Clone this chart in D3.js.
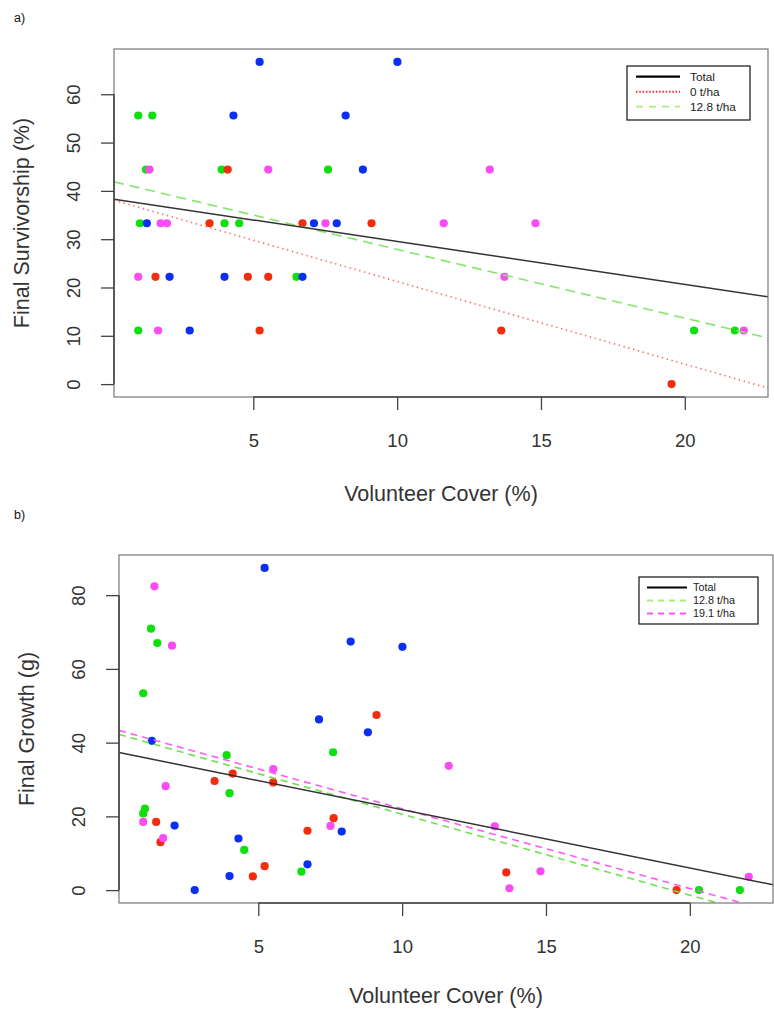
<!DOCTYPE html>
<html><head><meta charset="utf-8">
<script src="https://cdn.jsdelivr.net/npm/d3@7"></script>
<style>
html,body{margin:0;padding:0;background:#fff;}
svg text{font-family:"Liberation Sans",Arial,Helvetica,sans-serif;}
</style>
</head><body>
<svg id="chart" width="774" height="1010"></svg>
<script>
// ---------- Panel a: Final Survivorship (%) ----------
const aRedX   = [4.11, 3.48, 6.71, 9.11, 1.60, 4.81, 5.52, 5.22, 13.62, 19.54];
const aRedY   = [44.4, 33.3, 33.3, 33.3, 22.2, 22.2, 22.2, 11.1, 11.1, 0];
const aBlueX  = [5.22, 10.01, 4.31, 8.21, 8.81, 1.30, 7.11, 7.90, 2.09, 4.00, 6.71, 2.79];
const aBlueY  = [66.7, 66.7, 55.6, 55.6, 44.4, 33.3, 33.3, 33.3, 22.2, 22.2, 22.2, 11.1];
const aGreenX = [1.00, 1.49, 1.27, 3.90, 7.60, 1.06, 4.00, 4.51, 6.50, 1.00, 20.32, 21.74];
const aGreenY = [55.6, 55.6, 44.4, 44.4, 44.4, 33.3, 33.3, 33.3, 22.2, 11.1, 11.1, 11.1];
const aMagX   = [1.39, 5.52, 13.22, 1.78, 2.00, 7.51, 11.62, 14.81, 1.00, 13.73, 1.69, 22.05];
const aMagY   = [44.4, 44.4, 44.4, 33.3, 33.3, 33.3, 33.3, 33.3, 22.2, 22.2, 11.1, 11.1];
// fitted lines: [intercept, slope]
const aFitTotal = [38.42, -0.889];
const aFitRed   = [38.34, -1.71];
const aFitGreen = [42.10, -1.422];
const aLegend   = ["Total", "0 t/ha", "12.8 t/ha"];
const aXTicks = [5, 10, 15, 20];
const aYTicks = [0, 10, 20, 30, 40, 50, 60];

// ---------- Panel b: Final Growth (g) ----------
const bRedX   = [9.11, 4.11, 3.48, 5.52, 1.45, 7.62, 6.71, 1.60, 5.22, 4.81, 13.62, 19.54];
const bRedY   = [47.5, 31.6, 29.6, 29.2, 18.5, 19.5, 16.1, 13.0, 6.5, 3.7, 4.8, 0];
const bBlueX  = [5.22, 8.21, 10.01, 7.11, 8.81, 1.30, 2.09, 7.90, 4.31, 4.00, 6.71, 2.79];
const bBlueY  = [87.4, 67.4, 66.0, 46.3, 42.8, 40.5, 17.5, 15.9, 14.0, 3.8, 7.0, 0];
const bGreenX = [1.27, 1.49, 1.00, 3.90, 7.60, 4.00, 1.06, 1.00, 4.51, 6.50, 20.32, 21.74];
const bGreenY = [70.9, 67.0, 53.4, 36.6, 37.4, 26.3, 22.1, 20.8, 10.9, 5.0, 0, 0];
const bMagX   = [1.39, 2.00, 5.52, 1.78, 1.00, 7.51, 1.69, 11.62, 13.22, 13.73, 14.81, 22.05];
const bMagY   = [82.4, 66.3, 32.8, 28.2, 18.5, 17.4, 14.1, 33.7, 17.3, 0.5, 5.1, 3.6];
const bFitTotal = [37.57, -1.578];
const bFitGreen = [42.57, -2.197];
const bFitMag   = [43.67, -2.162];
const bLegend   = ["Total", "12.8 t/ha", "19.1 t/ha"];
const bXTicks = [5, 10, 15, 20];
const bYTicks = [0, 20, 40, 60, 80];

const COL = {red:"#f32d0b", blue:"#0b2ff2", green:"#0ee00e", mag:"#f94cf4"};
const LINE = {
  total:{stroke:"#333", width:1.5, dash:null},
  red:{stroke:"#ff6a6a", width:1.6, dash:"1.4,3.6"},
  green:{stroke:"#86e66a", width:1.6, dash:"10,6"},
  greenB:{stroke:"#6fe04e", width:1.6, dash:"7,5"},
  mag:{stroke:"#ff5cf6", width:1.6, dash:"7,5"}
};

const svg = d3.select("#chart");

function rPad(vals){
  const [lo,hi] = d3.extent(vals); const p = (hi-lo)*0.04; return [lo-p, hi+p];
}

function panel(opt){
  const {box, groups, fits, legend, xTicks, yTicks, yTitle, tag, tagPos, legendBox, titleOff} = opt;
  const allX = groups.flatMap(g=>g.x), allY = groups.flatMap(g=>g.y);
  const x = d3.scaleLinear().domain(rPad(allX)).range([box.l, box.r]);
  const y = d3.scaleLinear().domain(rPad(allY)).range([box.b, box.t]);
  const g = svg.append("g");
  const clipId = "clip"+tag;
  g.append("clipPath").attr("id", clipId).append("rect")
    .attr("x", box.l).attr("y", box.t).attr("width", box.r-box.l).attr("height", box.b-box.t);

  // points
  groups.forEach(gr=>{
    g.append("g").selectAll("circle").data(gr.x.map((v,i)=>[v, gr.y[i]])).join("circle")
      .attr("cx", d=>x(d[0])).attr("cy", d=>y(d[1])).attr("r", 4.1).attr("fill", gr.color);
  });
  // fit lines
  const xd = x.domain();
  fits.forEach(f=>{
    g.append("line").attr("clip-path", `url(#${clipId})`)
      .attr("x1", x(xd[0])).attr("y1", y(f.c[0]+f.c[1]*xd[0]))
      .attr("x2", x(xd[1])).attr("y2", y(f.c[0]+f.c[1]*xd[1]))
      .attr("stroke", f.s.stroke).attr("stroke-width", f.s.width)
      .attr("stroke-dasharray", f.s.dash);
  });
  // box
  g.append("rect").attr("x", box.l).attr("y", box.t).attr("width", box.r-box.l).attr("height", box.b-box.t)
    .attr("fill","none").attr("stroke","#777").attr("stroke-width",1.2);

  // x axis
  const xa = g.append("g").attr("transform", `translate(0,${box.b})`)
    .call(d3.axisBottom(x).tickValues(xTicks).tickSize(13).tickPadding(24).tickSizeOuter(0));
  xa.select(".domain").remove();
  xa.append("line").attr("x1", x(xTicks[0])).attr("x2", x(xTicks[xTicks.length-1]))
    .attr("stroke","#444").attr("stroke-width",1.6);
  xa.selectAll(".tick line").attr("stroke","#444").attr("stroke-width",1.3);
  xa.selectAll(".tick text").attr("fill","#333").style("font-size","18.5px")
    .style("font-family","Liberation Sans, Arial, sans-serif");

  // y axis
  const ya = g.append("g").attr("transform", `translate(${box.l},0)`)
    .call(d3.axisLeft(y).tickValues(yTicks).tickSize(13).tickSizeOuter(0));
  ya.select(".domain").remove();
  ya.append("line").attr("y1", y(yTicks[0])).attr("y2", y(yTicks[yTicks.length-1]))
    .attr("stroke","#444").attr("stroke-width",1.6);
  ya.selectAll(".tick line").attr("stroke","#444").attr("stroke-width",1.3);
  ya.selectAll(".tick text").attr("fill","#333").style("font-size","18.5px")
    .style("font-family","Liberation Sans, Arial, sans-serif")
    .attr("x",0).attr("dy","0.35em").attr("text-anchor","middle")
    .attr("transform","translate(-40,0) rotate(-90)");

  // titles
  g.append("text").attr("x",(box.l+box.r)/2).attr("y", box.b+titleOff).attr("dy","0.35em")
    .attr("text-anchor","middle").attr("fill","#333").style("font-size","21.5px")
    .text("Volunteer Cover (%)");
  g.append("text").attr("transform",`translate(${box.l-93},${(box.t+box.b)/2}) rotate(-90)`)
    .attr("dy","0.35em").attr("text-anchor","middle").attr("fill","#333").style("font-size","21.5px")
    .text(yTitle);
  g.append("text").attr("x", tagPos[0]).attr("y", tagPos[1]).attr("fill","#111")
    .style("font-size","12.5px").text(tag+")");

  // legend
  const L = legendBox;
  const lg = g.append("g");
  lg.append("rect").attr("x",L.x).attr("y",L.y).attr("width",L.w).attr("height",L.h)
    .attr("fill","#fff").attr("stroke","#111").attr("stroke-width",1.2);
  legend.forEach((t,i)=>{
    const yy = L.y + L.row0 + i*L.dy;
    const s = L.styles[i];
    lg.append("line").attr("x1",L.x+L.l1).attr("x2",L.x+L.l2).attr("y1",yy).attr("y2",yy)
      .attr("stroke",s.stroke).attr("stroke-width",s.width).attr("stroke-dasharray",s.dash);
    lg.append("text").attr("x",L.x+L.tx).attr("y",yy).attr("dy","0.35em").attr("fill","#222")
      .style("font-size",L.fs+"px").text(t);
  });
}

panel({
  tag:"a", tagPos:[14,22], titleOff:96,
  box:{l:114, r:768, t:49, b:397},
  groups:[
    {x:aGreenX, y:aGreenY, color:COL.green},
    {x:aRedX, y:aRedY, color:COL.red},
    {x:aBlueX, y:aBlueY, color:COL.blue},
    {x:aMagX, y:aMagY, color:COL.mag}
  ],
  fits:[
    {c:aFitRed, s:LINE.red},
    {c:aFitGreen, s:LINE.green},
    {c:aFitTotal, s:LINE.total}
  ],
  legend:aLegend, xTicks:aXTicks, yTicks:aYTicks, yTitle:"Final Survivorship (%)",
  legendBox:{x:627, y:66, w:123, h:54, row0:10.7, dy:15, l1:9, l2:53, tx:63, fs:11.8,
    styles:[{stroke:"#000",width:2.2,dash:null},{stroke:"#ff2a2a",width:2,dash:"1.5,1.8"},{stroke:"#a8ee7c",width:1.8,dash:"7,6"}]}
});

panel({
  tag:"b", tagPos:[14,519], titleOff:92,
  box:{l:119, r:773, t:555, b:903},
  groups:[
    {x:bGreenX, y:bGreenY, color:COL.green},
    {x:bRedX, y:bRedY, color:COL.red},
    {x:bBlueX, y:bBlueY, color:COL.blue},
    {x:bMagX, y:bMagY, color:COL.mag}
  ],
  fits:[
    {c:bFitGreen, s:LINE.greenB},
    {c:bFitMag, s:LINE.mag},
    {c:bFitTotal, s:LINE.total}
  ],
  legend:bLegend, xTicks:bXTicks, yTicks:bYTicks, yTitle:"Final Growth (g)",
  legendBox:{x:639, y:577, w:119, h:47, row0:10.5, dy:13, l1:8, l2:48, tx:54, fs:10.8,
    styles:[{stroke:"#000",width:2.2,dash:null},{stroke:"#a8ee7c",width:1.8,dash:"6,5"},{stroke:"#ff55f5",width:1.8,dash:"6,5"}]}
});
</script>
</body></html>
